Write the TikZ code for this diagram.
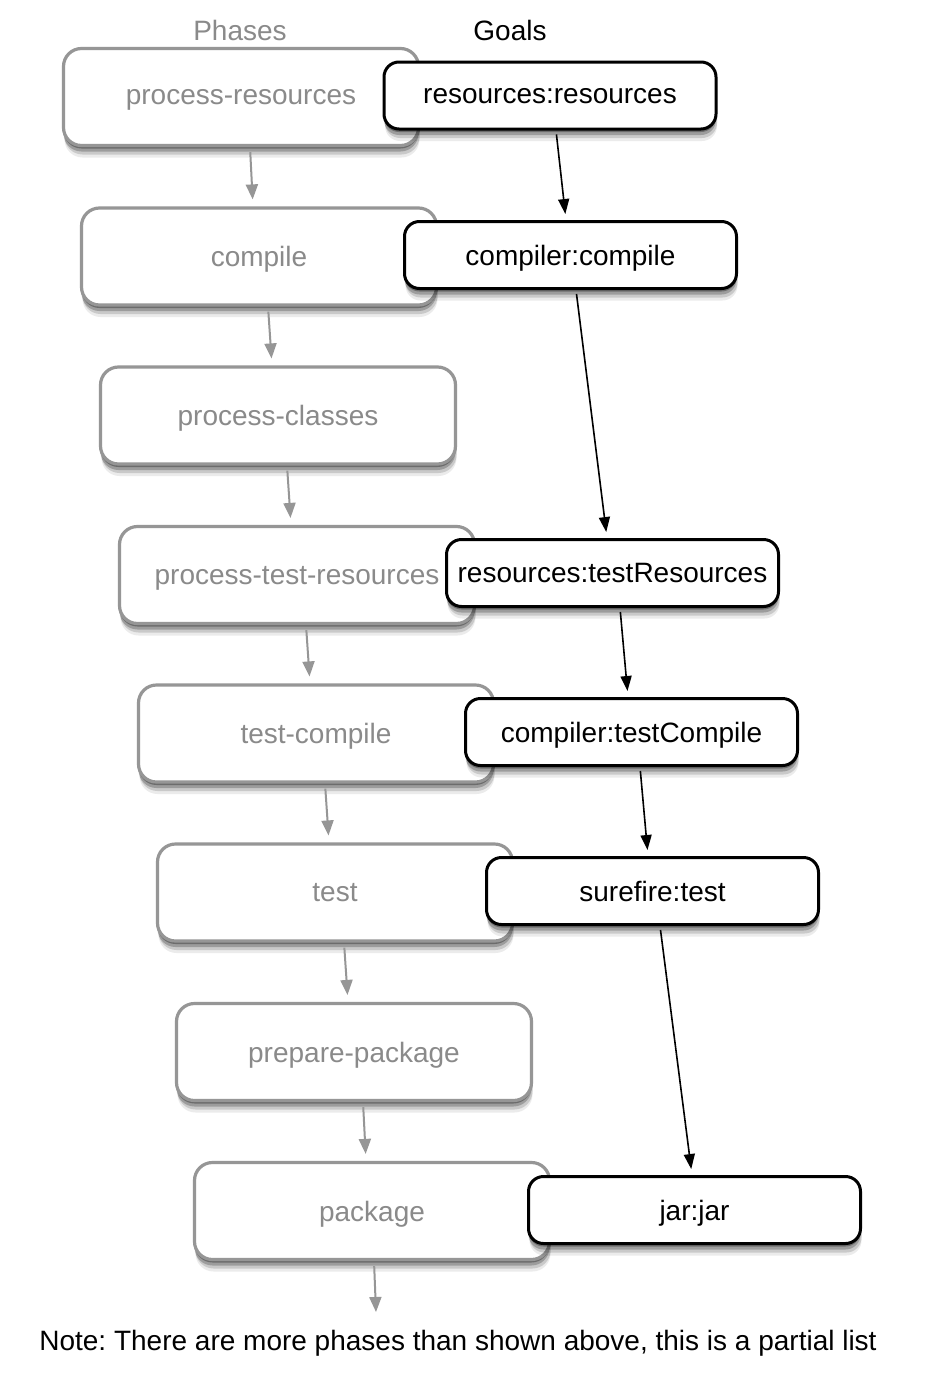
\documentclass[tikz,border=0pt]{standalone}
\usepackage{fontspec}
\setmainfont{Liberation Sans}
\usetikzlibrary{arrows.meta,shadows}
\definecolor{phborder}{HTML}{969696}
\definecolor{phtext}{HTML}{8A8A8A}
\definecolor{pharrow}{HTML}{969696}
\frenchspacing
\begin{document}
\begin{tikzpicture}[x=1pt,y=-1pt,
  every node/.style={font=\fontsize{28}{32}\selectfont},
  softshadow/.style={general shadow={shadow yshift=-12pt,shadow xshift=1pt,fill=black,opacity=0.08},
                     general shadow={shadow yshift=-9pt,shadow xshift=1pt,fill=black,opacity=0.14},
                     general shadow={shadow yshift=-6pt,fill=black,opacity=0.22},
                     general shadow={shadow yshift=-3pt,fill=black,opacity=0.30}},
  phase/.style={rectangle,draw=phborder,line width=3.2pt,rounded corners=18pt,
    minimum width=355pt,minimum height=97pt,fill=white,text=phtext,inner sep=0pt,
    text depth=0pt,softshadow},
  goal/.style={rectangle,draw=black,line width=3pt,rounded corners=15pt,
    minimum width=332pt,minimum height=67pt,fill=white,text=black,inner sep=0pt,
    text depth=0pt,softshadow},
  parrow/.style={draw=pharrow,line width=2pt,-{Triangle[length=15pt,width=12pt]},
    shorten <=5pt,shorten >=7pt},
  garrow/.style={draw=black,line width=1.6pt,-{Triangle[length=15pt,width=11pt]},
    shorten <=4pt,shorten >=6pt},
  lbl/.style={inner sep=0pt}]
\useasboundingbox (0,0) rectangle (952,1400);
\fill[white] (0,0) rectangle (952,1400);

\node[lbl,text=phtext] (phases) at (240,30) {Phases};
\node[lbl,text=black] (goals) at (510,30) {Goals};

\node[phase] (p1) at (241,97) {process-resources};
\node[phase] (p2) at (259,256.5) {compile};
\node[phase] (p3) at (278,415.5) {process-classes};
\node[phase] (p4) at (297,575) {process-test-resources};
\node[phase] (p5) at (316,733.5) {test-compile};
\node[phase] (p6) at (335,892.5) {test};
\node[phase] (p7) at (354,1052) {prepare-package};
\node[phase] (p8) at (372,1211) {package};
\coordinate (pend) at (376,1312);

\node[goal] (g1) at (550,95.5) {resources:resources};
\node[goal] (g2) at (570.5,255) {compiler:compile};
\node[goal] (g3) at (612.5,573) {resources:testResources};
\node[goal] (g4) at (631.5,732) {compiler:testCompile};
\node[goal] (g5) at (652.5,891) {surefire:test};
\node[goal] (g6) at (694.5,1210) {jar:jar};

\draw[parrow] ([xshift=9pt]p1.south) -- ([xshift=-6pt]p2.north);
\draw[parrow] ([xshift=9pt]p2.south) -- ([xshift=-6pt]p3.north);
\draw[parrow] ([xshift=9pt]p3.south) -- ([xshift=-6pt]p4.north);
\draw[parrow] ([xshift=9pt]p4.south) -- ([xshift=-6pt]p5.north);
\draw[parrow] ([xshift=9pt]p5.south) -- ([xshift=-6pt]p6.north);
\draw[parrow] ([xshift=9pt]p6.south) -- ([xshift=-6pt]p7.north);
\draw[parrow] ([xshift=9pt]p7.south) -- ([xshift=-6pt]p8.north);
\draw[parrow,shorten >=0pt] ([xshift=2pt]p8.south) -- (pend);

\draw[garrow] ([xshift=6pt]g1.south) -- ([xshift=-4.5pt]g2.north);
\draw[garrow] ([xshift=5.5pt]g2.south) -- ([xshift=-5.5pt]g3.north);
\draw[garrow] ([xshift=7.5pt]g3.south) -- ([xshift=-3.5pt]g4.north);
\draw[garrow] ([xshift=8.5pt]g4.south) -- ([xshift=-4.5pt]g5.north);
\draw[garrow] ([xshift=7.5pt]g5.south) -- ([xshift=-2.5pt]g6.north);

\node[lbl,text=black] (note) at (458,1343) {Note: There are more phases than shown above, this is a partial list};
\end{tikzpicture}
\end{document}
